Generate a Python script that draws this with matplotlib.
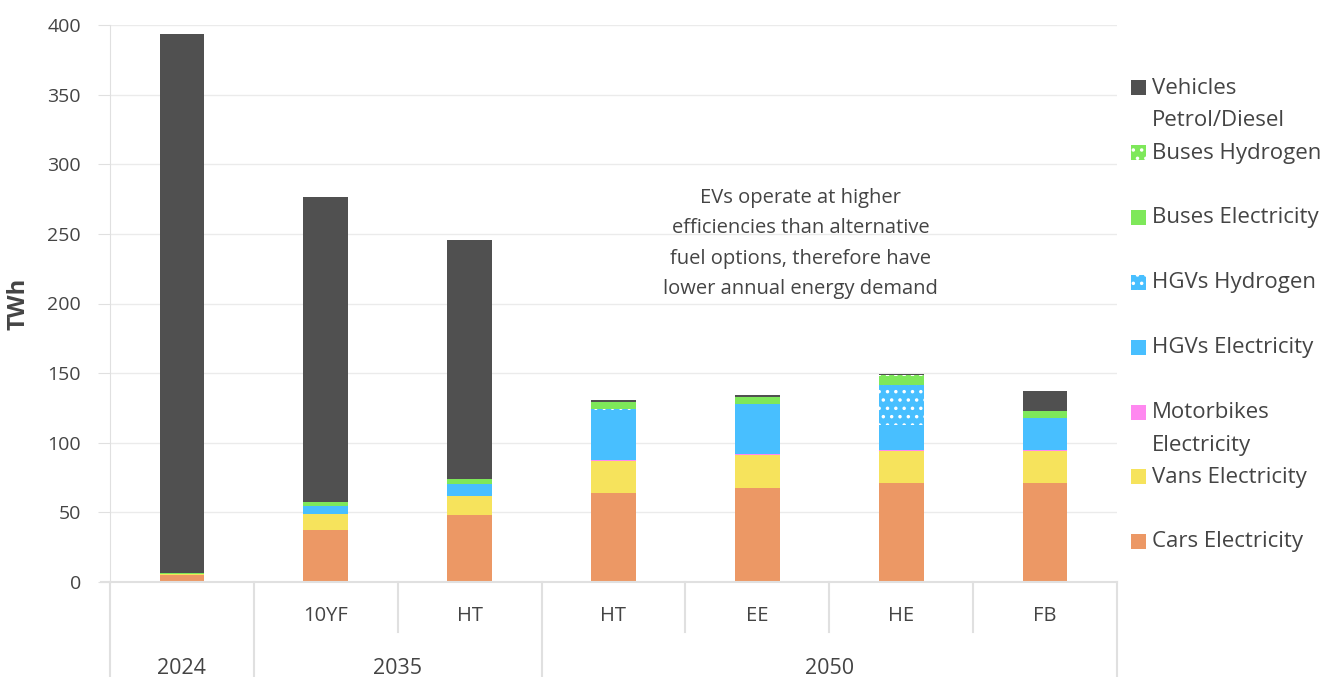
import matplotlib
matplotlib.use('Agg')
import matplotlib.pyplot as plt
import matplotlib.transforms as mtransforms
from matplotlib.patches import Rectangle

plt.rcParams['font.family'] = ['Open Sans', 'DejaVu Sans']
plt.rcParams['hatch.linewidth'] = 1.3

scenarios = ['', '10YF', 'HT', 'HT', 'EE', 'HE', 'FB']
years = ['2024', '2035', '2050']
year_sizes = [1, 2, 4]

cars = [5.0, 37.3, 48.1, 63.7, 67.7, 71.3, 71.3]
vans = [0.8, 11.4, 13.7, 23.3, 23.5, 22.8, 23.1]
motorbikes = [0.2, 0.2, 0.3, 0.3, 0.4, 0.4, 0.4]
hgv_elec = [0.0, 5.8, 8.6, 35.9, 35.7, 18.0, 22.9]
hgv_h2 = [0.0, 0.0, 0.0, 0.8, 0.5, 29.2, 0.0]
bus_elec = [0.3, 2.6, 3.4, 4.5, 5.3, 6.4, 4.8]
bus_h2 = [0.0, 0.0, 0.0, 1.0, 0.0, 0.5, 0.0]
petrol = [387.5, 219.3, 171.6, 1.0, 1.2, 1.0, 14.9]

series = [
    ('Cars Electricity', cars, '#EC9865', None),
    ('Vans Electricity', vans, '#F6E35C', None),
    ('Motorbikes\nElectricity', motorbikes, '#FF88F0', None),
    ('HGVs Electricity', hgv_elec, '#48BFFF', None),
    ('HGVs Hydrogen', hgv_h2, '#48BFFF', '..'),
    ('Buses Electricity', bus_elec, '#7EE85A', None),
    ('Buses Hydrogen', bus_h2, '#7EE85A', '..'),
    ('Vehicles\nPetrol/Diesel', petrol, '#505050', None),
]

W, H = 1329, 677
fig = plt.figure(figsize=(W / 100, H / 100), dpi=100)
ax = fig.add_axes([110 / W, 1 - 582 / H, 1007 / W, 557 / H])

text_col = '#444444'
line_col = '#e0e0e0'

x = list(range(len(scenarios)))
bottom = [0.0] * len(x)
for name, vals, col, hatch in series:
    if hatch:
        ax.bar(x, vals, 0.31, bottom=bottom, color=col, hatch=hatch,
               edgecolor='white', linewidth=0, zorder=3)
    else:
        ax.bar(x, vals, 0.31, bottom=bottom, color=col, linewidth=0, zorder=3)
    bottom = [b + v for b, v in zip(bottom, vals)]

ax.set_xlim(-0.5, 6.5)
ax.set_ylim(0, 400)
ax.set_yticks(range(0, 401, 50))
ax.grid(True, axis='y', color='#ebebeb', linewidth=1, zorder=0)
ax.set_axisbelow(True)
for s in ['top', 'right', 'bottom']:
    ax.spines[s].set_visible(False)
ax.spines['left'].set_color(line_col)
ax.tick_params(axis='y', length=9, color=line_col, labelsize=14,
               labelcolor=text_col, pad=12)
ax.tick_params(axis='x', length=0, labelbottom=False)
ax.set_ylabel('TWh', fontsize=17, fontweight='bold', color=text_col)
ax.yaxis.set_label_coords(-0.079, 0.5)

# multi-level x axis
trans = mtransforms.blended_transform_factory(ax.transData, ax.transAxes)
ax.plot([-0.565, 6.5], [0, 0], transform=trans, color=line_col, lw=1.5,
        clip_on=False, zorder=4)
for xb in [-0.5, 0.5, 2.5, 6.5]:
    ax.plot([xb, xb], [0, -0.175], transform=trans, color=line_col, lw=1.5,
            clip_on=False)
for xb in [1.5, 3.5, 4.5, 5.5]:
    ax.plot([xb, xb], [0, -0.09], transform=trans, color=line_col, lw=1.5,
            clip_on=False)
for i, lab in enumerate(scenarios):
    ax.text(i, -0.061, lab, transform=trans, ha='center', va='center',
            fontsize=14.5, color=text_col)
start = 0
for yr, n in zip(years, year_sizes):
    ax.text(start + (n - 1) / 2, -0.155, yr, transform=trans, ha='center',
            va='center', fontsize=15.5, color=text_col)
    start += n

ax.text(4.3, 243, 'EVs operate at higher\nefficiencies than alternative\n'
        'fuel options, therefore have\nlower annual energy demand',
        ha='center', va='center', fontsize=14.5, color=text_col,
        linespacing=1.7, zorder=5)

# legend
legend_y = [542, 477, 413, 348, 283, 218, 153, 88]
for (name, vals, col, hatch), yp in zip(series, legend_y):
    fig.patches.append(Rectangle((1131 / W, 1 - (yp + 7) / H), 15 / W, 15 / H,
                                 transform=fig.transFigure, facecolor=col,
                                 hatch=hatch, edgecolor='white' if hatch else col,
                                 linewidth=0))
    first, *rest = name.split('\n')
    fig.text(1152 / W, 1 - yp / H, first, ha='left', va='center',
             fontsize=16, color=text_col)
    if rest:
        fig.text(1152 / W, 1 - (yp + 32) / H, rest[0], ha='left', va='center',
                 fontsize=16, color=text_col)

fig.savefig('out.png', dpi=100, facecolor='white')
